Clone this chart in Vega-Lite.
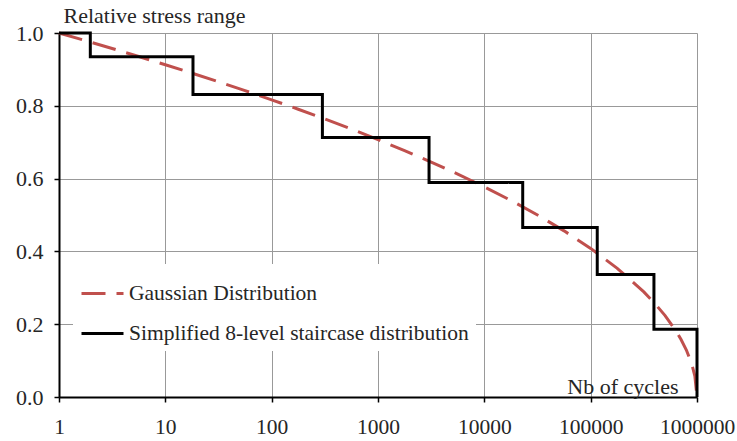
{
  "$schema": "https://vega.github.io/schema/vega-lite/v6.json",
  "width": 638,
  "height": 364,
  "autosize": {"type": "none"},
  "padding": {"left": 59, "top": 33, "right": 40, "bottom": 44},
  "background": "white",
  "config": {
    "view": {"stroke": null},
    "font": "Liberation Serif"
  },
  "data": {
    "values": [
      {"series": "Gaussian Distribution", "o": 1, "n": 1, "s": 1.0},
      {"series": "Gaussian Distribution", "o": 2, "n": 1.778, "s": 0.9789},
      {"series": "Gaussian Distribution", "o": 3, "n": 3.162, "s": 0.9574},
      {"series": "Gaussian Distribution", "o": 4, "n": 5.623, "s": 0.9354},
      {"series": "Gaussian Distribution", "o": 5, "n": 10, "s": 0.9129},
      {"series": "Gaussian Distribution", "o": 6, "n": 17.78, "s": 0.8898},
      {"series": "Gaussian Distribution", "o": 7, "n": 31.62, "s": 0.866},
      {"series": "Gaussian Distribution", "o": 8, "n": 56.23, "s": 0.8416},
      {"series": "Gaussian Distribution", "o": 9, "n": 100, "s": 0.8165},
      {"series": "Gaussian Distribution", "o": 10, "n": 177.8, "s": 0.7906},
      {"series": "Gaussian Distribution", "o": 11, "n": 316.2, "s": 0.7638},
      {"series": "Gaussian Distribution", "o": 12, "n": 562.3, "s": 0.736},
      {"series": "Gaussian Distribution", "o": 13, "n": 1000, "s": 0.7071},
      {"series": "Gaussian Distribution", "o": 14, "n": 1778, "s": 0.677},
      {"series": "Gaussian Distribution", "o": 15, "n": 3162, "s": 0.6455},
      {"series": "Gaussian Distribution", "o": 16, "n": 5623, "s": 0.6124},
      {"series": "Gaussian Distribution", "o": 17, "n": 10000, "s": 0.5774},
      {"series": "Gaussian Distribution", "o": 18, "n": 17783, "s": 0.5401},
      {"series": "Gaussian Distribution", "o": 19, "n": 31623, "s": 0.5},
      {"series": "Gaussian Distribution", "o": 20, "n": 56234, "s": 0.4564},
      {"series": "Gaussian Distribution", "o": 21, "n": 100000, "s": 0.4082},
      {"series": "Gaussian Distribution", "o": 22, "n": 177828, "s": 0.3536},
      {"series": "Gaussian Distribution", "o": 23, "n": 316228, "s": 0.2887},
      {"series": "Gaussian Distribution", "o": 24, "n": 398107, "s": 0.2582},
      {"series": "Gaussian Distribution", "o": 25, "n": 501187, "s": 0.2236},
      {"series": "Gaussian Distribution", "o": 26, "n": 630957, "s": 0.1826},
      {"series": "Gaussian Distribution", "o": 27, "n": 707946, "s": 0.1581},
      {"series": "Gaussian Distribution", "o": 28, "n": 794328, "s": 0.1291},
      {"series": "Gaussian Distribution", "o": 29, "n": 891251, "s": 0.0913},
      {"series": "Gaussian Distribution", "o": 30, "n": 954993, "s": 0.0577},
      {"series": "Gaussian Distribution", "o": 31, "n": 1000000, "s": 0.0},
      {"series": "Simplified 8-level staircase distribution", "o": 1, "n": 1, "s": 1.0},
      {"series": "Simplified 8-level staircase distribution", "o": 2, "n": 1.97, "s": 1.0},
      {"series": "Simplified 8-level staircase distribution", "o": 3, "n": 1.97, "s": 0.935},
      {"series": "Simplified 8-level staircase distribution", "o": 4, "n": 18.2, "s": 0.935},
      {"series": "Simplified 8-level staircase distribution", "o": 5, "n": 18.2, "s": 0.831},
      {"series": "Simplified 8-level staircase distribution", "o": 6, "n": 300, "s": 0.831},
      {"series": "Simplified 8-level staircase distribution", "o": 7, "n": 300, "s": 0.713},
      {"series": "Simplified 8-level staircase distribution", "o": 8, "n": 3020, "s": 0.713},
      {"series": "Simplified 8-level staircase distribution", "o": 9, "n": 3020, "s": 0.5895},
      {"series": "Simplified 8-level staircase distribution", "o": 10, "n": 22960, "s": 0.5895},
      {"series": "Simplified 8-level staircase distribution", "o": 11, "n": 22960, "s": 0.466},
      {"series": "Simplified 8-level staircase distribution", "o": 12, "n": 115300, "s": 0.466},
      {"series": "Simplified 8-level staircase distribution", "o": 13, "n": 115300, "s": 0.3365},
      {"series": "Simplified 8-level staircase distribution", "o": 14, "n": 393600, "s": 0.3365},
      {"series": "Simplified 8-level staircase distribution", "o": 15, "n": 393600, "s": 0.186},
      {"series": "Simplified 8-level staircase distribution", "o": 16, "n": 1000000, "s": 0.186},
      {"series": "Simplified 8-level staircase distribution", "o": 17, "n": 1000000, "s": 0.0}
    ]
  },
  "mark": {"type": "line", "strokeWidth": 3, "strokeCap": "butt", "strokeJoin": "miter"},
  "encoding": {
    "x": {
      "field": "n",
      "type": "quantitative",
      "scale": {"type": "log", "domain": [1, 1000000]},
      "axis": {
        "values": [1, 10, 100, 1000, 10000, 100000, 1000000],
        "format": "d",
        "labelFont": "Liberation Serif",
        "labelFontSize": 21.5,
        "labelColor": "#262626",
        "labelPadding": 14,
        "labelFlush": false,
        "tickSize": 5,
        "tickColor": "black",
        "tickWidth": 1.5,
        "domainColor": "black",
        "domainWidth": 2,
        "gridColor": "#999999",
        "gridWidth": 1,
        "title": "Nb of cycles",
        "titleFont": "Liberation Serif",
        "titleFontSize": 22,
        "titleFontWeight": "normal",
        "titleColor": "#262626",
        "titleAlign": "right",
        "titleAnchor": null,
        "titleBaseline": "alphabetic",
        "titleX": 619,
        "titleY": -4
      }
    },
    "y": {
      "field": "s",
      "type": "quantitative",
      "scale": {"domain": [0, 1]},
      "axis": {
        "values": [0, 0.2, 0.4, 0.6, 0.8, 1.0],
        "format": ".1f",
        "labelFont": "Liberation Serif",
        "labelFontSize": 22,
        "labelColor": "#262626",
        "labelPadding": 11,
        "tickSize": 5,
        "tickColor": "black",
        "tickWidth": 1.5,
        "domainColor": "black",
        "domainWidth": 2,
        "gridColor": "#999999",
        "gridWidth": 1,
        "title": "Relative stress range",
        "titleFont": "Liberation Serif",
        "titleFontSize": 22,
        "titleFontWeight": "normal",
        "titleColor": "#262626",
        "titleAngle": 0,
        "titleAlign": "left",
        "titleAnchor": null,
        "titleBaseline": "alphabetic",
        "titleX": 4,
        "titleY": -11
      }
    },
    "color": {
      "field": "series",
      "type": "nominal",
      "scale": {
        "domain": ["Gaussian Distribution", "Simplified 8-level staircase distribution"],
        "range": ["#C0504D", "#000000"]
      },
      "legend": {
        "title": null,
        "orient": "none",
        "legendX": 14,
        "legendY": 231,
        "fillColor": "white",
        "padding": 7,
        "symbolType": "stroke",
        "symbolSize": 1764,
        "symbolStrokeWidth": 3,
        "labelFont": "Liberation Serif",
        "labelFontSize": 21.5,
        "labelColor": "#262626",
        "labelOffset": 4,
        "labelLimit": 500,
        "rowPadding": 7
      }
    },
    "strokeDash": {
      "field": "series",
      "type": "nominal",
      "scale": {
        "domain": ["Gaussian Distribution", "Simplified 8-level staircase distribution"],
        "range": [[24, 11], [1, 0]]
      },
      "legend": {
        "title": null,
        "orient": "none",
        "legendX": 14,
        "legendY": 231,
        "fillColor": "white",
        "padding": 7,
        "symbolType": "stroke",
        "symbolSize": 1764,
        "symbolStrokeWidth": 3,
        "labelFont": "Liberation Serif",
        "labelFontSize": 21.5,
        "labelColor": "#262626",
        "labelOffset": 4,
        "labelLimit": 500,
        "rowPadding": 7
      }
    },
    "order": {"field": "o", "type": "quantitative"}
  }
}
